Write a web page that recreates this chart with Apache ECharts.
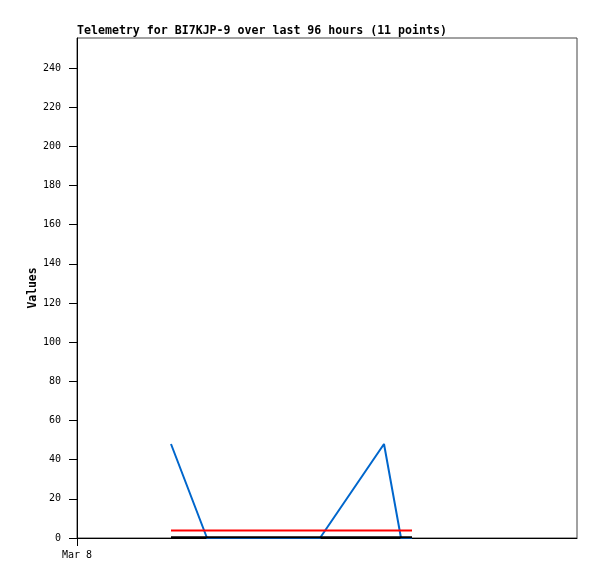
<!DOCTYPE html>
<html>
<head>
<meta charset="utf-8">
<script src="https://cdn.jsdelivr.net/npm/echarts@6/dist/echarts.min.js"></script>
<style>
html,body{margin:0;padding:0;background:#fff;}
#chart{width:597px;height:579px;}
</style>
</head>
<body>
<div id="chart"></div>
<script>
// Hours since Mar 8 00:00 for each telemetry point
var hours = [1.88, 2.60, 3.06, 3.52, 3.98, 4.42, 4.86, 6.14, 6.48, 6.60, 6.70];
var blueValues = [48, 0, 0, 0, 0, 0, 0, 48, 0, 0, 0];
var redValues = [3.8, 3.8, 3.8, 3.8, 3.8, 3.8, 3.8, 3.8, 3.8, 3.8, 3.8];
var blackValues = [0.4, 0.4, 0.4, 0.4, 0.4, 0.4, 0.4, 0.4, 0.4, 0.4, 0.4];
var xTickValues = [0];
var xTickLabels = ['Mar 8'];
var titleText = 'Telemetry for BI7KJP-9 over last 96 hours (11 points)';

function pairs(vals) {
  return hours.map(function (h, i) { return [h, vals[i]]; });
}

var mono = 'DejaVu Sans Mono';
var chart = echarts.init(document.getElementById('chart'), null, {renderer: 'canvas'});
chart.setOption({
  animation: false,
  backgroundColor: '#ffffff',
  title: {
    text: titleText,
    left: 77,
    top: 25,
    padding: 0,
    textStyle: {fontFamily: mono, fontSize: 11.6, fontWeight: 'bold', color: '#000'}
  },
  grid: {
    left: 77, right: 20, top: 38, bottom: 41,
    show: true, borderColor: '#444', borderWidth: 1, backgroundColor: 'transparent',
    containLabel: false
  },
  xAxis: {
    type: 'value',
    min: 0, max: 10,
    axisLine: {show: true, onZero: true, lineStyle: {color: '#000', width: 1}},
    axisTick: {show: true, length: 8, inside: false, customValues: xTickValues, lineStyle: {color: '#000'}},
    axisLabel: {
      show: true, margin: 12, customValues: xTickValues,
      fontFamily: mono, fontSize: 10, color: '#000',
      formatter: function (v) { var i = xTickValues.indexOf(v); return i >= 0 ? xTickLabels[i] : ''; }
    },
    splitLine: {show: false}
  },
  yAxis: {
    type: 'value',
    min: 0, max: 255.3, interval: 20,
    name: 'Values',
    nameLocation: 'middle',
    nameGap: 38,
    nameRotate: 90,
    nameMoveOverlap: false,
    nameTextStyle: {fontFamily: mono, fontSize: 11.4, fontWeight: 'bold', color: '#000'},
    axisLine: {show: true, lineStyle: {color: '#000', width: 1}},
    axisTick: {show: true, length: 8, lineStyle: {color: '#000'}},
    axisLabel: {show: true, margin: 16, showMaxLabel: false, fontFamily: mono, fontSize: 10, color: '#000'},
    splitLine: {show: false}
  },
  series: [
    {
      name: 'Value A', type: 'line', data: pairs(blueValues),
      symbol: 'none', lineStyle: {color: '#0066cc', width: 2}, itemStyle: {color: '#0066cc'}
    },
    {
      name: 'Value B', type: 'line', data: pairs(redValues),
      symbol: 'none', lineStyle: {color: '#ff0000', width: 2}, itemStyle: {color: '#ff0000'}
    },
    {
      name: 'Value C', type: 'line', data: pairs(blackValues),
      symbol: 'none', lineStyle: {color: '#000000', width: 2}, itemStyle: {color: '#000000'}
    }
  ]
});
</script>
</body>
</html>
